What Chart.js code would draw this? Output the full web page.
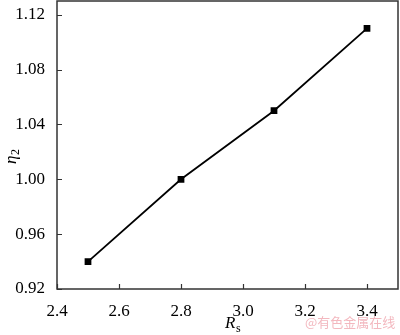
<!DOCTYPE html>
<html>
<head>
<meta charset="utf-8">
<script src="https://cdn.jsdelivr.net/npm/chart.js@4.4.0/dist/chart.umd.min.js"></script>
<style>
  html, body { margin: 0; padding: 0; background: #fff; }
  #wrap { width: 400px; height: 335px; position: relative; }
</style>
</head>
<body>
<div id="wrap"><canvas id="c"></canvas></div>
<script>
  // valores
  var rsValues = [2.5, 2.8, 3.1, 3.4];
  var etaValues = [0.94, 1.00, 1.05, 1.11];
  var xTicks = [2.4, 2.6, 2.8, 3.0, 3.2, 3.4];
  var yTicks = [0.92, 0.96, 1.00, 1.04, 1.08, 1.12];

  var SERIF = '"Liberation Serif", "DejaVu Serif", serif';
  var AXIS_COLOR = '#333';

  // moldura, ticks internos e títulos dos eixos
  var framePlugin = {
    id: 'frame',
    afterDraw: function (chart) {
      var ctx = chart.ctx;
      var a = chart.chartArea;
      var xs = chart.scales.x, ys = chart.scales.y;
      ctx.save();
      ctx.strokeStyle = AXIS_COLOR;
      ctx.lineWidth = 1.5;
      ctx.strokeRect(a.left, a.top, a.right - a.left, a.bottom - a.top);
      ctx.lineWidth = 1.2;
      ctx.beginPath();
      xTicks.forEach(function (v) {
        var px = Math.round(xs.getPixelForValue(v)) + 0.5;
        ctx.moveTo(px, a.bottom);
        ctx.lineTo(px, a.bottom - 5);
      });
      yTicks.forEach(function (v) {
        var py = Math.round(ys.getPixelForValue(v)) + 0.5;
        ctx.moveTo(a.left, py);
        ctx.lineTo(a.left + 5, py);
      });
      ctx.stroke();

      ctx.fillStyle = '#000';
      ctx.textBaseline = 'alphabetic';
      // eixo x: R_s
      ctx.font = 'italic 17px ' + SERIF;
      ctx.textAlign = 'left';
      ctx.fillText('R', 225, 328);
      ctx.font = '12px ' + SERIF;
      ctx.fillText('s', 236, 332);
      // eixo y: eta_2 (rotacionado)
      ctx.translate(16, 164);
      ctx.rotate(-Math.PI / 2);
      ctx.font = 'italic 17px ' + SERIF;
      ctx.fillText('\u03b7', 0, 0);
      ctx.font = '12px ' + SERIF;
      ctx.fillText('2', 9, 3);
      ctx.restore();

      // marca d'água
      ctx.save();
      ctx.font = '13px "Noto Sans CJK SC", sans-serif';
      ctx.fillStyle = '#f3b8bf';
      ctx.textAlign = 'left';
      ctx.textBaseline = 'middle';
      ctx.fillText('@有色金属在线', 305, 322);
      ctx.restore();
    }
  };

  function noPad(s) {
    s.paddingTop = 0;
    s.paddingBottom = 0;
    s.paddingLeft = 0;
    s.paddingRight = 0;
  }

  new Chart(document.getElementById('c'), {
    type: 'line',
    data: {
      datasets: [{
        data: rsValues.map(function (x, i) { return { x: x, y: etaValues[i] }; }),
        borderColor: '#000',
        borderWidth: 1.8,
        backgroundColor: '#000',
        pointStyle: 'rect',
        pointRadius: 3.5,
        pointHoverRadius: 3.5,
        tension: 0,
        fill: false,
      }],
    },
    options: {
      responsive: true,
      maintainAspectRatio: false,
      animation: false,
      events: [],
      layout: { autoPadding: false, padding: { left: 0, right: 2, top: 1, bottom: 0 } },
      plugins: { legend: { display: false }, tooltip: { enabled: false } },
      scales: {
        x: {
          type: 'linear',
          min: 2.4,
          max: 3.5,
          border: { display: false },
          grid: { display: false },
          afterBuildTicks: function (s) { s.ticks = xTicks.map(function (v) { return { value: v }; }); },
          afterFit: function (s) { s.height = 46; noPad(s); },
          ticks: {
            color: '#000',
            padding: 4,
            font: { family: SERIF, size: 17 },
            callback: function (v) { return Number(v).toFixed(1); },
          },
        },
        y: {
          type: 'linear',
          min: 0.92,
          max: 1.13,
          border: { display: false },
          grid: { display: false },
          afterBuildTicks: function (s) { s.ticks = yTicks.map(function (v) { return { value: v }; }); },
          afterFit: function (s) { s.width = 57; noPad(s); },
          ticks: {
            color: '#000',
            padding: 4,
            font: { family: SERIF, size: 17 },
            callback: function (v) { return Number(v).toFixed(2); },
          },
        },
      },
    },
    plugins: [framePlugin],
  });
</script>
</body>
</html>
